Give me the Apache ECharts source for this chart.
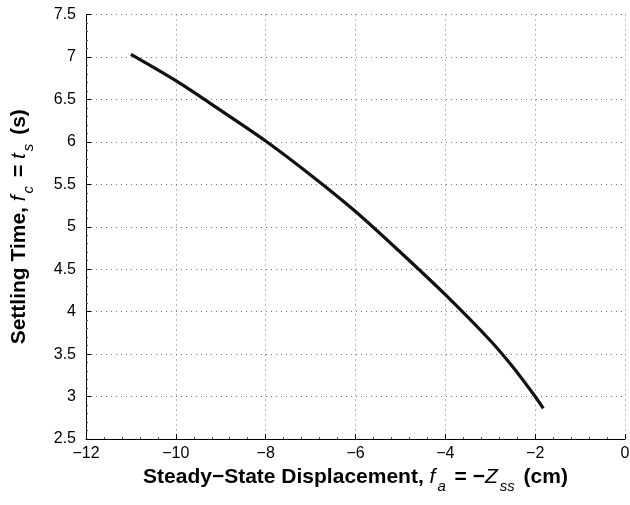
<!DOCTYPE html>
<html>
<head>
<meta charset="utf-8">
<script src="https://cdn.jsdelivr.net/npm/echarts@6/dist/echarts.min.js"></script>
<style>html,body{margin:0;padding:0;background:#fff}#c{width:630px;height:505px}</style>
</head>
<body>
<div id="c"></div>
<script>
const displacement = [-11.0, -10.0, -9.0, -8.0, -7.0, -6.0, -5.0, -4.0, -3.0, -2.5, -2.0, -1.82];
const settlingTime = [7.03, 6.72, 6.37, 6.01, 5.61, 5.18, 4.70, 4.20, 3.66, 3.35, 3.00, 2.86];
const xTicks = [-12, -10, -8, -6, -4, -2, 0];
const yTicks = [2.5, 3, 3.5, 4, 4.5, 5, 5.5, 6, 6.5, 7, 7.5];

const FONT = 'Liberation Sans, Arial, Helvetica, sans-serif';
const chart = echarts.init(document.getElementById('c'), null, {renderer: 'canvas'});
const richStyles = {
  b: {fontFamily: FONT, fontWeight: 'bold', fontSize: 21, color: '#000', lineHeight: 25, verticalAlign: 'top'},
  i: {fontFamily: FONT, fontStyle: 'italic', fontSize: 21, color: '#000', lineHeight: 25, verticalAlign: 'top'},
  sub: {fontFamily: FONT, fontStyle: 'italic', fontSize: 15, color: '#000', padding: [12, 3, 0, 2], verticalAlign: 'top'}
};
chart.setOption({
  animation: false,
  backgroundColor: '#fff',
  grid: {left: 86, right: 5, top: 14.5, bottom: 66, containLabel: false, outerBoundsMode: 'none'},
  xAxis: {
    type: 'value', min: -12, max: 0, interval: 2,
    name: '{b|Steady\u2212State Displacement, }{i|f}{sub|a}{b| = \u2212}{i|Z}{sub|ss}{b| (cm)}',
    nameLocation: 'middle', nameGap: 23,
    nameTextStyle: {rich: richStyles},
    axisLine: {show: true, onZero: false, lineStyle: {color: '#000', width: 1}},
    axisTick: {show: true, inside: true, length: 5, lineStyle: {color: '#000'}},
    minorTick: {show: true, splitNumber: 5, length: 2, lineStyle: {color: '#555'}},
    axisLabel: {color: '#000', fontSize: 16, fontFamily: FONT, margin: 7,
      formatter: v => xTicks.includes(v) ? String(v).replace('-', '\u2212') : ''},
    splitLine: {show: true, lineStyle: {color: '#777', type: [1, 4], width: 1}}
  },
  yAxis: {
    type: 'value', min: 2.5, max: 7.5, interval: 0.5,
    name: '{b|Settling Time, }{i|f}{sub|c}{b| = }{i|t}{sub|s}{b| (s)}',
    nameLocation: 'middle', nameGap: 50, nameRotate: 90,
    nameTextStyle: {rich: richStyles},
    axisLine: {show: true, onZero: false, lineStyle: {color: '#000', width: 1}},
    axisTick: {show: true, inside: true, length: 5, lineStyle: {color: '#000'}},
    minorTick: {show: true, splitNumber: 5, length: 2, lineStyle: {color: '#555'}},
    axisLabel: {color: '#000', fontSize: 16, fontFamily: FONT, margin: 10,
      formatter: v => yTicks.includes(v) ? String(v) : ''},
    splitLine: {show: true, lineStyle: {color: '#777', type: [1, 4], width: 1}}
  },
  series: [{
    type: 'line', data: displacement.map((x, k) => [x, settlingTime[k]]),
    smooth: 0.3, showSymbol: false, symbol: 'none',
    lineStyle: {color: '#111', width: 3.2}
  }]
});
</script>
</body>
</html>
